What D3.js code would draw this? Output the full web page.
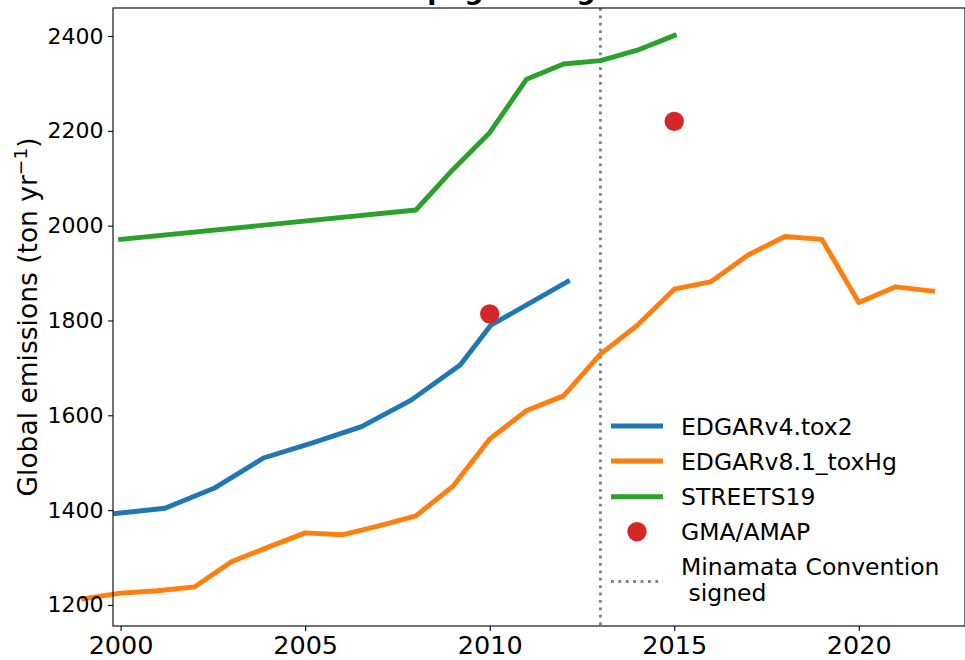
<!DOCTYPE html>
<html>
<head>
<meta charset="utf-8">
<script src="https://cdn.jsdelivr.net/npm/d3@7"></script>
<style>
  html, body { margin: 0; padding: 0; background: #fff; }
  svg { display: block; font-family: "DejaVu Sans", sans-serif; }
</style>
</head>
<body>
<svg id="chart" width="965" height="660"></svg>
<script>
// ---- data ----
const edgar81Years = [1999, 2000, 2001, 2002, 2003, 2004, 2005, 2006, 2007, 2008, 2009, 2010, 2011,
                      2012, 2013, 2014, 2015, 2016, 2017, 2018, 2019, 2020, 2021, 2022];
const edgar81Values = [1213, 1225, 1230, 1238, 1291, 1322, 1352, 1348, 1367, 1388, 1450, 1550, 1610,
                       1641, 1729, 1790, 1866, 1882, 1938, 1977, 1971, 1838, 1871, 1862];
const edgar4Years = [1999.87, 2001.2, 2002.53, 2003.87, 2005.2, 2006.53, 2007.87, 2009.2, 2010.03, 2012.11];
const edgar4Values = [1393, 1404, 1446, 1510, 1542, 1576, 1632, 1706, 1790, 1882];
const streetsYears = [2000, 2008, 2009, 2010, 2011, 2012, 2013, 2014, 2015];
const streetsValues = [1971, 2033, 2118, 2196, 2309, 2341, 2348, 2370, 2401];
const gmaYears = [2010, 2015];
const gmaValues = [1814, 2220];
const minamataYear = 2013;
const xTicks = [2000, 2005, 2010, 2015, 2020];
const yTicks = [1200, 1400, 1600, 1800, 2000, 2200, 2400];
const legendLabels = ["EDGARv4.tox2", "EDGARv8.1_toxHg", "STREETS19", "GMA/AMAP"];

// ---- layout ----
const svg = d3.select("#chart");
const L = 113, R = 965, T = 8, B = 626;
const pxPerYear = 36.91;
const x0 = 2000 - (120.6 - L) / pxPerYear;
const x = d3.scaleLinear().domain([x0, x0 + (R - L) / pxPerYear]).range([L, R]);
const y = d3.scaleLinear().domain([1155.6, 2459.05]).range([B, T]);

const colors = { blue: "#1f77b4", orange: "#ff7f0e", green: "#2ca02c", red: "#d62728" };

// Minamata line
svg.append("line")
  .attr("x1", x(minamataYear)).attr("x2", x(minamataYear))
  .attr("y1", T).attr("y2", B)
  .attr("stroke", "#808080").attr("stroke-width", 2.8)
  .attr("stroke-dasharray", "2.8 4.6");

const line = d3.line().x(d => x(d[0])).y(d => y(d[1]));
function drawSeries(years, vals, color) {
  svg.append("path")
    .datum(years.map((yr, i) => [yr, vals[i]]))
    .attr("d", line)
    .attr("fill", "none")
    .attr("stroke", color)
    .attr("stroke-width", 4.9)
    .attr("stroke-linecap", "square")
    .attr("stroke-linejoin", "round");
}
drawSeries(edgar4Years, edgar4Values, colors.blue);
drawSeries(edgar81Years, edgar81Values, colors.orange);
drawSeries(streetsYears, streetsValues, colors.green);

svg.selectAll("circle.gma")
  .data(gmaYears.map((yr, i) => [yr, gmaValues[i]]))
  .enter().append("circle")
  .attr("class", "gma")
  .attr("cx", d => x(d[0])).attr("cy", d => y(d[1]))
  .attr("r", 9.7).attr("fill", colors.red);

// axes
const xAxis = svg.append("g").attr("transform", `translate(0,${B})`)
  .call(d3.axisBottom(x).tickValues(xTicks).tickFormat(d3.format("d")).tickSize(4.9).tickPadding(4.5));
xAxis.selectAll("text").attr("font-size", "25.5px").attr("fill", "#000")
  .attr("font-family", "DejaVu Sans");
const yAxis = svg.append("g").attr("transform", `translate(${L},0)`)
  .call(d3.axisLeft(y).tickValues(yTicks).tickFormat(d3.format("d")).tickSize(4.9).tickPadding(4.5));
yAxis.selectAll("text").attr("font-size", "22px").attr("fill", "#000")
  .attr("font-family", "DejaVu Sans");
[xAxis, yAxis].forEach(g => {
  g.select(".domain").remove();
  g.selectAll("line").attr("stroke", "#000").attr("stroke-width", 1.1);
});

// spines
svg.append("rect").attr("x", L).attr("y", T).attr("width", R - L).attr("height", B - T)
  .attr("fill", "none").attr("stroke", "#000").attr("stroke-width", 1.1);

// title (mostly above the visible area, as in the reference)
svg.append("text").attr("x", (L + R) / 2).attr("y", -1.5)
  .attr("text-anchor", "middle").attr("font-size", "26.5px").attr("font-weight", "bold")
  .text("Anthropogenic Hg emissions");

// y label
const yl = svg.append("text")
  .attr("transform", `translate(37,${(T + B) / 2}) rotate(-90)`)
  .attr("text-anchor", "middle").attr("font-size", "26.5px");
yl.append("tspan").text("Global emissions (ton yr");
yl.append("tspan").attr("font-size", "18.5px").attr("dy", "-10").text("\u22121");
yl.append("tspan").attr("dy", "10").text(")");

// legend
const lg = svg.append("g");
const legX1 = 611, legX2 = 663, legTextX = 681;
const rowY = [426, 461, 496.7, 531.7];
const legColors = [colors.blue, colors.orange, colors.green];
legendLabels.forEach((lab, i) => {
  if (i < 3) {
    lg.append("line").attr("x1", legX1).attr("x2", legX2).attr("y1", rowY[i]).attr("y2", rowY[i])
      .attr("stroke", legColors[i]).attr("stroke-width", 4.9);
  } else {
    lg.append("circle").attr("cx", (legX1 + legX2) / 2).attr("cy", rowY[i]).attr("r", 9.7)
      .attr("fill", colors.red);
  }
  lg.append("text").attr("x", legTextX).attr("y", rowY[i] + 8.6)
    .attr("font-size", "23.5px").text(lab);
});
lg.append("line").attr("x1", legX1).attr("x2", legX2).attr("y1", 581.5).attr("y2", 581.5)
  .attr("stroke", "#808080").attr("stroke-width", 2.8).attr("stroke-dasharray", "2.8 4.6");
lg.append("text").attr("x", legTextX).attr("y", 575.3).attr("font-size", "23.5px")
  .text("Minamata Convention");
lg.append("text").attr("x", legTextX + 7.5).attr("y", 601.3).attr("font-size", "23.5px")
  .text("signed");
</script>
</body>
</html>
